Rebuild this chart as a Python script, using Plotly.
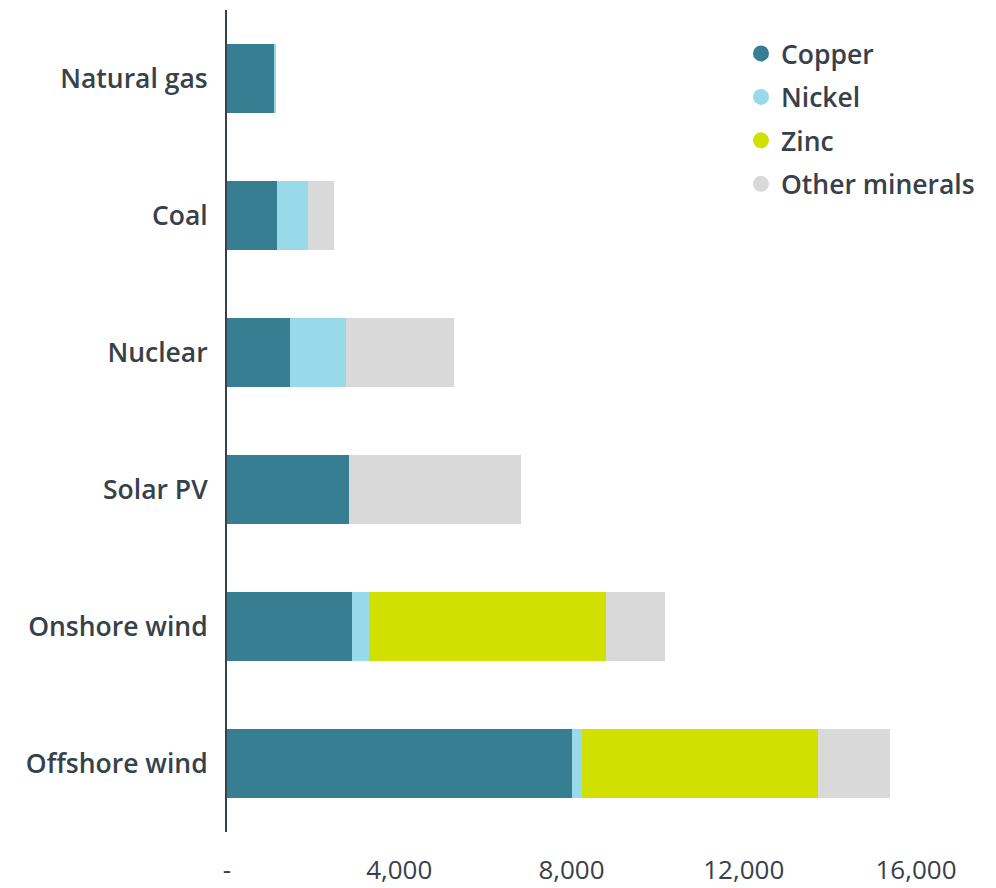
import plotly.graph_objects as go

categories = ["Natural gas", "Coal", "Nuclear", "Solar PV", "Onshore wind", "Offshore wind"]
copper = [1100, 1150, 1473, 2822, 2900, 8000]
nickel = [16, 721, 1297, 0, 400, 250]
zinc = [0, 0, 0, 0, 5500, 5480]
other = [0, 620, 2500, 4000, 1370, 1670]

series = [
    ("Copper", copper, "#377E92"),
    ("Nickel", nickel, "#98DAEA"),
    ("Zinc", zinc, "#D0E000"),
    ("Other minerals", other, "#D9D9D9"),
]

tick_vals = [0, 4000, 8000, 12000, 16000]
tick_text = ["-", "4,000", "8,000", "12,000", "16,000"]

text_color = "#37414A"
font_family = "Open Sans, Noto Sans, sans-serif"

fig = go.Figure()
for name, vals, color in series:
    fig.add_trace(go.Bar(
        y=categories, x=vals, name=name, orientation="h",
        marker=dict(color=color, line=dict(width=0)),
        showlegend=False,
    ))
for i, (name, vals, color) in enumerate(series):
    fig.add_trace(go.Scatter(
        x=[None], y=[None], mode="markers", name=name,
        marker=dict(symbol="circle", size=22, color=color),
        legendgroup=f"g{i}", showlegend=True,
    ))

fig.update_layout(
    width=988, height=880,
    margin=dict(l=219, r=80, t=2, b=56),
    barmode="stack", bargap=0.5,
    plot_bgcolor="white", paper_bgcolor="white",
    font=dict(family=font_family, color=text_color),
    legend=dict(
        x=0.746, y=0.976, xanchor="left", yanchor="top",
        font=dict(size=26.5, family=font_family, color=text_color, weight=600),
        traceorder="grouped", tracegroupgap=6,
        itemsizing="trace", bgcolor="rgba(0,0,0,0)",
    ),
    xaxis=dict(
        range=[0, 16000], tickvals=tick_vals, ticktext=tick_text,
        showgrid=False, zeroline=False, showline=False, ticks="",
        tickfont=dict(size=26, color=text_color, family=font_family),
        ticklabelstandoff=20, automargin=False,
    ),
    yaxis=dict(
        categoryorder="array", categoryarray=categories[::-1],
        showgrid=False, zeroline=False,
        showline=True, linecolor=text_color, linewidth=2,
        ticks="", ticklabelstandoff=12, automargin=False,
        tickfont=dict(size=26.5, color=text_color, family=font_family, weight=600),
    ),
)

fig.write_html("out.html")
